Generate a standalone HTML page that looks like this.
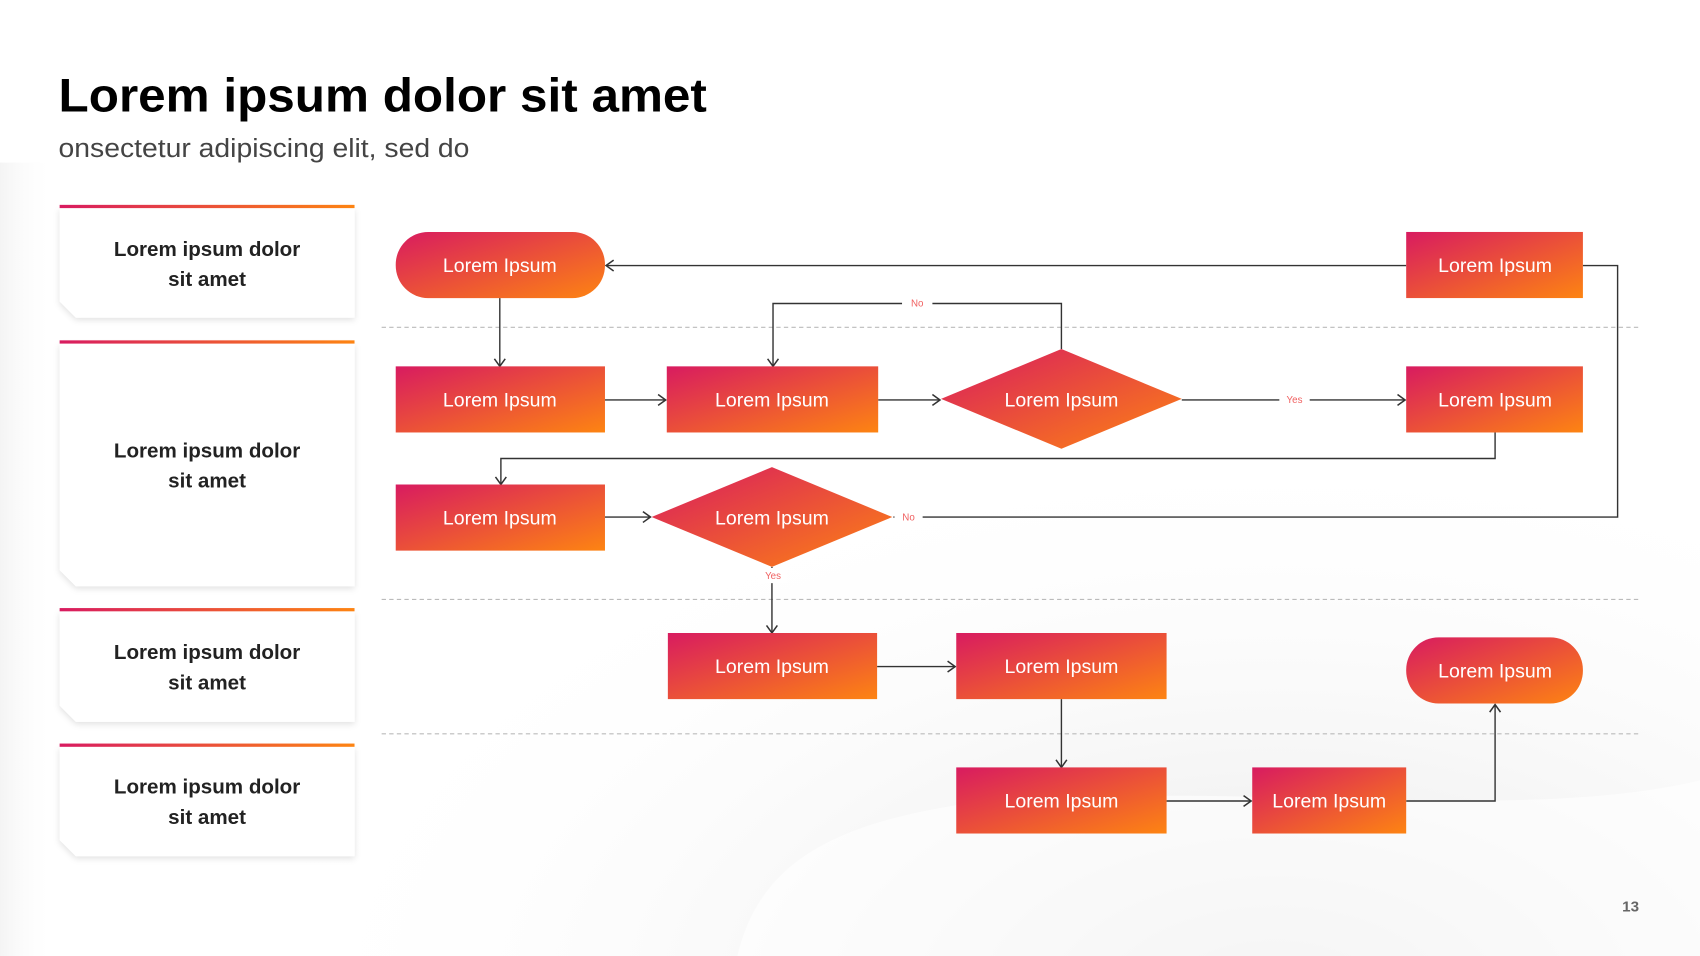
<!DOCTYPE html>
<html><head><meta charset="utf-8"><style>
html,body{margin:0;padding:0;width:1700px;height:956px;overflow:hidden;background:#fff}
svg{display:block}
</style></head><body>
<svg width="1700" height="956" viewBox="0 0 1568 882" preserveAspectRatio="none" xmlns="http://www.w3.org/2000/svg" font-family="Liberation Sans, Arial, sans-serif">
<defs>
<linearGradient id="g" x1="0" y1="0" x2="1" y2="1"><stop offset="0" stop-color="#d81b60"/><stop offset="1" stop-color="#fd8412"/></linearGradient>
<linearGradient id="gh" x1="0" y1="0" x2="1" y2="0"><stop offset="0" stop-color="#d81b60"/><stop offset="1" stop-color="#fd8412"/></linearGradient>
<radialGradient id="bg" cx="0.75" cy="1.05" r="0.6"><stop offset="0" stop-color="#e4e4e4"/><stop offset="1" stop-color="#ffffff" stop-opacity="0"/></radialGradient>
<linearGradient id="bl" x1="0" y1="0" x2="1" y2="0"><stop offset="0" stop-color="#f4f4f4"/><stop offset="1" stop-color="#fff" stop-opacity="0"/></linearGradient>
<marker id="a" markerWidth="12" markerHeight="12" refX="10" refY="6" orient="auto" markerUnits="userSpaceOnUse"><path d="M3,1 L10,6 L3,11" fill="none" stroke="#333" stroke-width="1.4"/></marker>
<filter id="sh" x="-10%" y="-10%" width="120%" height="130%"><feDropShadow dx="0" dy="2" stdDeviation="3" flood-color="#000" flood-opacity="0.12"/></filter>
</defs>
<rect width="1568" height="882" fill="#fff"/>
<rect x="0" y="150" width="50" height="732" fill="url(#bl)"/>
<rect width="1568" height="882" fill="url(#bg)"/>
<path d="M680,882 C700,800 760,760 900,740 C1150,720 1400,760 1568,720 L1568,882 Z" fill="#fff" opacity="0.6"/>

<text x="54" y="103" font-size="44" font-weight="bold" fill="#000" textLength="598" lengthAdjust="spacingAndGlyphs">Lorem ipsum dolor sit amet</text>
<text x="54" y="145" font-size="24" fill="#444" textLength="379" lengthAdjust="spacingAndGlyphs">onsectetur adipiscing elit, sed do</text>

<g filter="url(#sh)" fill="#fff">
<path d="M55,192 H327 V293 H70 L55,278 Z"/>
<path d="M55,317 H327 V541 H70 L55,526 Z"/>
<path d="M55,564 H327 V666 H70 L55,651 Z"/>
<path d="M55,689 H327 V790 H70 L55,775 Z"/>
</g>
<g fill="url(#gh)">
<rect x="55" y="189" width="272" height="3"/><rect x="55" y="314" width="272" height="3"/>
<rect x="55" y="561" width="272" height="3"/><rect x="55" y="686" width="272" height="3"/>
</g>
<g font-size="19" font-weight="bold" fill="#222" text-anchor="middle">
<text x="191" y="236">Lorem ipsum dolor</text><text x="191" y="264">sit amet</text>
<text x="191" y="422">Lorem ipsum dolor</text><text x="191" y="450">sit amet</text>
<text x="191" y="608">Lorem ipsum dolor</text><text x="191" y="636">sit amet</text>
<text x="191" y="732">Lorem ipsum dolor</text><text x="191" y="760">sit amet</text>
</g>

<g stroke="#bbb" stroke-width="1" stroke-dasharray="4,3">
<line x1="352" y1="302" x2="1512" y2="302"/><line x1="352" y1="553" x2="1512" y2="553"/><line x1="352" y1="677" x2="1512" y2="677"/>
</g>

<g fill="none" stroke="#333" stroke-width="1.3">
<path d="M1297,245 H559" marker-end="url(#a)"/>
<path d="M1460,245 H1492 V477 H824"/>
<path d="M461,275 V338" marker-end="url(#a)"/>
<path d="M558,369 H614" marker-end="url(#a)"/>
<path d="M810,369 H867" marker-end="url(#a)"/>
<path d="M979,322 V280 H713 V338" marker-end="url(#a)"/>
<path d="M1090,369 H1296" marker-end="url(#a)"/>
<path d="M1379,399 V423 H462 V447" marker-end="url(#a)"/>
<path d="M558,477 H600" marker-end="url(#a)"/>
<path d="M712,523 V584" marker-end="url(#a)"/>
<path d="M809,615 H881" marker-end="url(#a)"/>
<path d="M979,645 V708" marker-end="url(#a)"/>
<path d="M1076,739 H1154" marker-end="url(#a)"/>
<path d="M1297,739 H1379 V650" marker-end="url(#a)"/>
</g>

<g fill="url(#g)">
<rect x="365" y="214" width="193" height="61" rx="30"/>
<rect x="1297" y="214" width="163" height="61"/>
<rect x="365" y="338" width="193" height="61"/>
<rect x="615" y="338" width="195" height="61"/>
<polygon points="868,368 979,322 1090,368 979,414"/>
<rect x="1297" y="338" width="163" height="61"/>
<rect x="365" y="447" width="193" height="61"/>
<polygon points="601,477 712,431 823,477 712,523"/>
<rect x="616" y="584" width="193" height="61"/>
<rect x="882" y="584" width="194" height="61"/>
<rect x="1297" y="588" width="163" height="61" rx="30"/>
<rect x="882" y="708" width="194" height="61"/>
<rect x="1155" y="708" width="142" height="61"/>
</g>
<g font-size="18" fill="#fff" text-anchor="middle">
<text x="461" y="251">Lorem Ipsum</text><text x="1379" y="251">Lorem Ipsum</text>
<text x="461" y="375">Lorem Ipsum</text><text x="712" y="375">Lorem Ipsum</text>
<text x="979" y="375">Lorem Ipsum</text><text x="1379" y="375">Lorem Ipsum</text>
<text x="461" y="484">Lorem Ipsum</text><text x="712" y="484">Lorem Ipsum</text>
<text x="712" y="621">Lorem Ipsum</text><text x="979" y="621">Lorem Ipsum</text>
<text x="1379" y="625">Lorem Ipsum</text>
<text x="979" y="745">Lorem Ipsum</text><text x="1226" y="745">Lorem Ipsum</text>
</g>

<g fill="#fff">
<rect x="832" y="273" width="28" height="14"/>
<rect x="1180" y="362" width="28" height="14"/>
<rect x="825" y="470" width="26" height="14"/>
<rect x="700" y="524" width="26" height="14"/>
</g>
<g font-size="9" fill="#f06060" text-anchor="middle">
<text x="846" y="283">No</text><text x="1194" y="372">Yes</text>
<text x="838" y="480">No</text><text x="713" y="534">Yes</text>
</g>
<text x="1504" y="841" font-size="14" font-weight="bold" fill="#666" text-anchor="middle">13</text>
</svg>
</body></html>
